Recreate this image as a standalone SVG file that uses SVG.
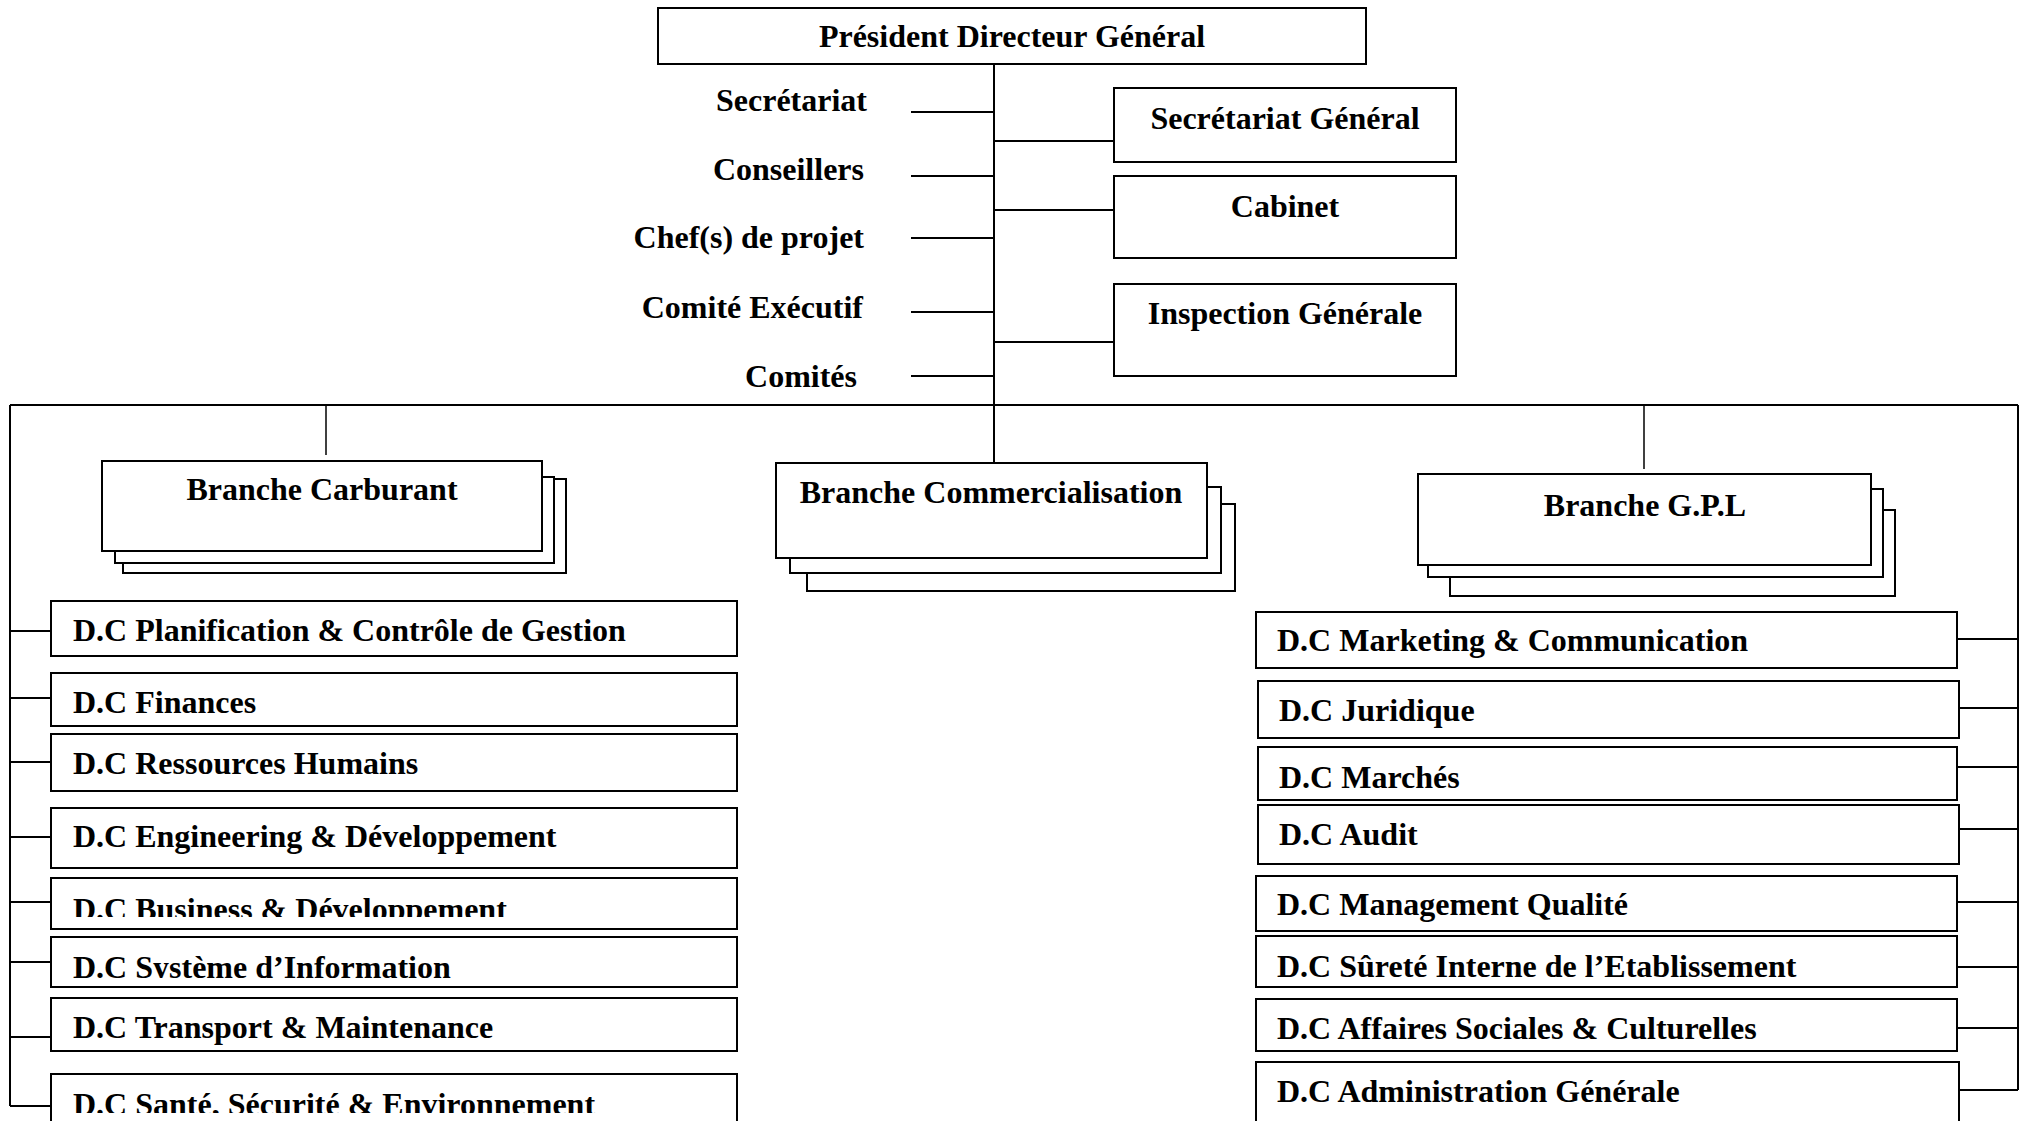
<svg xmlns="http://www.w3.org/2000/svg" width="2022" height="1121" viewBox="0 0 2022 1121">
  <style>
    .box { fill: #fff; stroke: #000; stroke-width: 2; }
    .ln { fill: none; stroke: #000; stroke-width: 2; }
    .thin { fill: none; stroke: #000; stroke-width: 1.5; }
    text { font-family: "Liberation Serif", "Times New Roman", serif; font-weight: bold; font-size: 32px; fill: #000; }
    .c { text-anchor: middle; }
    .r { text-anchor: end; }
  </style>
  <defs>
    <clipPath id="clipBusiness"><rect x="51" y="878" width="686" height="39"/></clipPath>
    <clipPath id="clipSysteme"><rect x="51" y="937" width="686" height="41"/></clipPath>
    <clipPath id="clipSante"><rect x="51" y="1074" width="686" height="39"/></clipPath>
  </defs>
  <rect width="2022" height="1121" fill="#fff"/>

  <!-- connectors -->
  <g id="connectors">
    <line class="ln" x1="994" y1="64" x2="994" y2="463"/>
    <line class="ln" x1="911" y1="112" x2="994" y2="112"/>
    <line class="ln" x1="911" y1="176" x2="994" y2="176"/>
    <line class="ln" x1="911" y1="238" x2="994" y2="238"/>
    <line class="ln" x1="911" y1="312" x2="994" y2="312"/>
    <line class="ln" x1="911" y1="376" x2="994" y2="376"/>
    <line class="ln" x1="994" y1="141" x2="1114" y2="141"/>
    <line class="ln" x1="994" y1="210" x2="1114" y2="210"/>
    <line class="ln" x1="994" y1="342" x2="1114" y2="342"/>
    <line class="ln" x1="10" y1="405" x2="2018" y2="405" stroke-width="2.5"/>
    <line class="thin" x1="326" y1="405" x2="326" y2="455"/>
    <line class="thin" x1="1644" y1="405" x2="1644" y2="469"/>
    <!-- left spine -->
    <line class="ln" x1="10" y1="405" x2="10" y2="1106"/>
    <line class="ln" x1="10" y1="631" x2="51" y2="631"/>
    <line class="ln" x1="10" y1="698" x2="51" y2="698"/>
    <line class="ln" x1="10" y1="762" x2="51" y2="762"/>
    <line class="ln" x1="10" y1="837" x2="51" y2="837"/>
    <line class="ln" x1="10" y1="902" x2="51" y2="902"/>
    <line class="ln" x1="10" y1="962" x2="51" y2="962"/>
    <line class="ln" x1="10" y1="1037" x2="51" y2="1037"/>
    <line class="ln" x1="10" y1="1106" x2="51" y2="1106"/>
    <!-- right spine -->
    <line class="ln" x1="2018" y1="405" x2="2018" y2="1090"/>
    <line class="ln" x1="1957" y1="639" x2="2018" y2="639"/>
    <line class="ln" x1="1959" y1="708" x2="2018" y2="708"/>
    <line class="ln" x1="1957" y1="767" x2="2018" y2="767"/>
    <line class="ln" x1="1959" y1="829" x2="2018" y2="829"/>
    <line class="ln" x1="1957" y1="902" x2="2018" y2="902"/>
    <line class="ln" x1="1957" y1="967" x2="2018" y2="967"/>
    <line class="ln" x1="1957" y1="1028" x2="2018" y2="1028"/>
    <line class="ln" x1="1959" y1="1090" x2="2018" y2="1090"/>
  </g>

  <!-- top management -->
  <g id="pdg">
    <rect class="box" x="658" y="8" width="708" height="56"/>
    <text class="c" x="1012" y="47">Président Directeur Général</text>
  </g>
  <g id="staff">
    <text class="r" x="867" y="111">Secrétariat</text>
    <text class="r" x="864" y="180">Conseillers</text>
    <text class="r" x="864" y="248">Chef(s) de projet</text>
    <text class="r" x="863" y="318">Comité Exécutif</text>
    <text class="r" x="857" y="387">Comités</text>
  </g>
  <g id="secretariat-general">
    <rect class="box" x="1114" y="88" width="342" height="74"/>
    <text class="c" x="1285" y="129">Secrétariat Général</text>
  </g>
  <g id="cabinet">
    <rect class="box" x="1114" y="176" width="342" height="82"/>
    <text class="c" x="1285" y="217">Cabinet</text>
  </g>
  <g id="inspection-generale">
    <rect class="box" x="1114" y="284" width="342" height="92"/>
    <text class="c" x="1285" y="324">Inspection Générale</text>
  </g>

  <!-- branches (stacked boxes) -->
  <g id="branche-carburant">
    <rect class="box" x="123" y="479" width="443" height="94"/>
    <rect class="box" x="115" y="477" width="439" height="86"/>
    <rect class="box" x="102" y="461" width="440" height="90"/>
    <text class="c" x="322" y="500">Branche Carburant</text>
  </g>
  <g id="branche-commercialisation">
    <rect class="box" x="807" y="504" width="428" height="87"/>
    <rect class="box" x="790" y="487" width="431" height="86"/>
    <rect class="box" x="776" y="463" width="431" height="95"/>
    <text class="c" x="991" y="503">Branche Commercialisation</text>
  </g>
  <g id="branche-gpl">
    <rect class="box" x="1450" y="510" width="445" height="86"/>
    <rect class="box" x="1428" y="489" width="455" height="88"/>
    <rect class="box" x="1418" y="474" width="453" height="91"/>
    <text class="c" x="1645" y="516">Branche G.P.L</text>
  </g>

  <!-- left column directions -->
  <g id="dc-planification">
    <rect class="box" x="51" y="601" width="686" height="55"/>
    <text x="73" y="641">D.C Planification &amp; Contrôle de Gestion</text>
  </g>
  <g id="dc-finances">
    <rect class="box" x="51" y="673" width="686" height="53"/>
    <text x="73" y="713">D.C Finances</text>
  </g>
  <g id="dc-ressources-humains">
    <rect class="box" x="51" y="734" width="686" height="57"/>
    <text x="73" y="774">D.C Ressources Humains</text>
  </g>
  <g id="dc-engineering">
    <rect class="box" x="51" y="808" width="686" height="60"/>
    <text x="73" y="847">D.C Engineering &amp; Développement</text>
  </g>
  <g id="dc-business">
    <rect class="box" x="51" y="878" width="686" height="51"/>
    <text x="73" y="920" clip-path="url(#clipBusiness)">D.C Business &amp; Développement</text>
  </g>
  <g id="dc-systeme-information">
    <rect class="box" x="51" y="937" width="686" height="50"/>
    <text x="73" y="978" clip-path="url(#clipSysteme)">D.C Système d’Information</text>
  </g>
  <g id="dc-transport">
    <rect class="box" x="51" y="998" width="686" height="53"/>
    <text x="73" y="1038">D.C Transport &amp; Maintenance</text>
  </g>
  <g id="dc-sante">
    <rect class="box" x="51" y="1074" width="686" height="60"/>
    <text x="73" y="1115" clip-path="url(#clipSante)">D.C Santé, Sécurité &amp; Environnement</text>
  </g>

  <!-- right column directions -->
  <g id="dc-marketing">
    <rect class="box" x="1256" y="612" width="701" height="56"/>
    <text x="1277" y="651">D.C Marketing &amp; Communication</text>
  </g>
  <g id="dc-juridique">
    <rect class="box" x="1258" y="681" width="701" height="57"/>
    <text x="1279" y="721">D.C Juridique</text>
  </g>
  <g id="dc-marches">
    <rect class="box" x="1258" y="747" width="699" height="53"/>
    <text x="1279" y="788">D.C Marchés</text>
  </g>
  <g id="dc-audit">
    <rect class="box" x="1258" y="805" width="701" height="59"/>
    <text x="1279" y="845">D.C Audit</text>
  </g>
  <g id="dc-management-qualite">
    <rect class="box" x="1256" y="876" width="701" height="55"/>
    <text x="1277" y="915">D.C Management Qualité</text>
  </g>
  <g id="dc-surete">
    <rect class="box" x="1256" y="936" width="701" height="51"/>
    <text x="1277" y="977">D.C Sûreté Interne de l’Etablissement</text>
  </g>
  <g id="dc-affaires-sociales">
    <rect class="box" x="1256" y="999" width="701" height="52"/>
    <text x="1277" y="1039">D.C Affaires Sociales &amp; Culturelles</text>
  </g>
  <g id="dc-administration">
    <rect class="box" x="1256" y="1062" width="703" height="70"/>
    <text x="1277" y="1102">D.C Administration Générale</text>
  </g>
</svg>
